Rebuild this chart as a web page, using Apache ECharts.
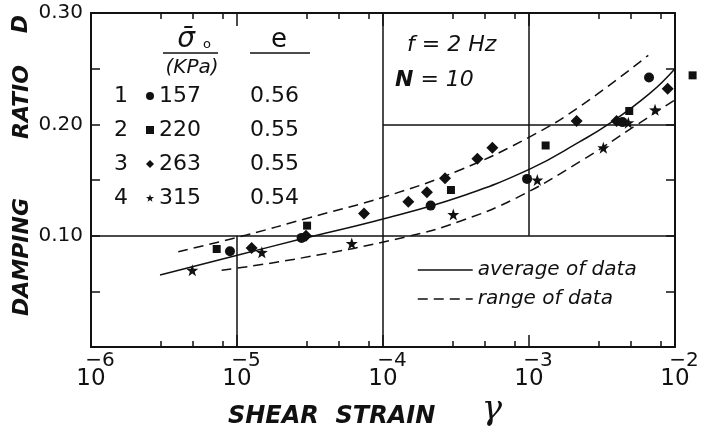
<!DOCTYPE html>
<html>
<head>
<meta charset="utf-8">
<script src="https://cdn.jsdelivr.net/npm/echarts@6/dist/echarts.min.js"></script>
<style>
  html, body { margin: 0; padding: 0; background: #fff; }
  #main { width: 705px; height: 431px; }
</style>
</head>
<body>
<div id="main"></div>
<script>
// shear strain (absolute) vs damping ratio
var circleData  = [[8.95e-6, 0.086], [2.77e-5, 0.098], [2.12e-4, 0.127], [9.7e-4, 0.151], [4.37e-3, 0.202], [6.64e-3, 0.242]];
var squareData  = [[7.26e-6, 0.088], [3.02e-5, 0.109], [2.92e-4, 0.141], [1.30e-3, 0.181], [4.86e-3, 0.212], [1.32e-2, 0.244]];
var diamondData = [[1.26e-5, 0.089], [2.97e-5, 0.100], [7.41e-5, 0.120], [1.49e-4, 0.1305], [2.0e-4, 0.139], [2.66e-4, 0.1515],
                   [4.43e-4, 0.169], [5.61e-4, 0.179], [2.12e-3, 0.203], [3.98e-3, 0.203], [8.91e-3, 0.232]];
var starData    = [[4.94e-6, 0.069], [1.48e-5, 0.085], [6.11e-5, 0.093], [3.03e-4, 0.119], [1.14e-3, 0.150],
                   [3.23e-3, 0.179], [4.79e-3, 0.2015], [7.3e-3, 0.213]];

var averageLine = [[2.97e-6, 0.0647], [1.02e-5, 0.0826], [2.70e-5, 0.0967], [1.03e-4, 0.1155], [3.37e-4, 0.135],
                   [1.02e-3, 0.160], [2.23e-3, 0.1845], [3.59e-3, 0.201], [6.75e-3, 0.228], [1.0e-2, 0.250]];
var upperRange  = [[3.96e-6, 0.0856], [1.16e-5, 0.1006], [3.0e-5, 0.1155], [1.03e-4, 0.135], [3.37e-4, 0.159],
                   [1.02e-3, 0.189], [2.23e-3, 0.216], [6.56e-3, 0.262]];
var lowerRange  = [[7.85e-6, 0.069], [2.70e-5, 0.0797], [1.45e-4, 0.099], [3.37e-4, 0.113], [8.22e-4, 0.134],
                   [2.23e-3, 0.1665], [5.46e-3, 0.1995], [1.0e-2, 0.222]];

var sampleIds = ['1', '2', '3', '4'];
var sigmaKPa  = ['157', '220', '263', '315'];
var voidRatio = ['0.56', '0.55', '0.55', '0.54'];

var decades = [-6, -5, -4, -3, -2];
var minorMult = [3, 5, 8];

// partial grid lines of the original figure [x1, y1, x2, y2]
var gridSegments = [
  [1e-6, 0.10, 1e-2, 0.10],
  [1e-4, 0, 1e-4, 0.30],
  [1e-5, 0, 1e-5, 0.10],
  [1e-3, 0.10, 1e-3, 0.30],
  [1e-4, 0.20, 1e-2, 0.20]
];

var ink = '#111';
var font = 'DejaVu Sans';
var starPath = 'path://M0,-10L2.35,-3.24L9.51,-3.09L3.8,1.24L5.88,8.09L0,4L-5.88,8.09L-3.8,1.24L-9.51,-3.09L-2.35,-3.24Z';

var minorTicks = [];
decades.slice(0, 4).forEach(function (d) {
  minorMult.forEach(function (m) { minorTicks.push(d + Math.log10(m)); });
});

function tickAxis(pos, values, len, showLine, showLabel) {
  return {
    type: 'value', position: pos, min: -6, max: -2, interval: 1, gridIndex: 0,
    axisLine: { show: showLine, onZero: false, lineStyle: { color: ink, width: 2 } },
    axisTick: { show: true, inside: true, length: len, customValues: values, lineStyle: { color: ink, width: 1.5 } },
    axisLabel: {
      show: showLabel, margin: 5, color: ink, fontFamily: font,
      formatter: function (v) { return '{e|\u2212' + (-v) + '}\n{b|10}'; },
      rich: {
        e: { fontSize: 20, lineHeight: 17, fontFamily: font, color: ink, padding: [0, 0, 0, 18] },
        b: { fontSize: 23, lineHeight: 20, fontFamily: font, color: ink }
      }
    },
    splitLine: { show: false }
  };
}

function yAx(pos, showLabel) {
  return {
    type: 'value', position: pos, min: 0, max: 0.30, interval: 0.05,
    axisLine: { show: true, onZero: false, lineStyle: { color: ink, width: 2 } },
    axisTick: { show: true, inside: true, length: 9, lineStyle: { color: ink, width: 1.5 } },
    axisLabel: {
      show: showLabel, margin: 8, color: ink, fontSize: 20, fontFamily: font,
      formatter: function (v) {
        var t = v * 10;
        return (v > 0 && Math.abs(t - Math.round(t)) < 1e-6) ? v.toFixed(2) : '';
      }
    },
    splitLine: { show: false }
  };
}

function scatter(name, data, symbol, size) {
  return {
    name: name, type: 'scatter', data: data, symbol: symbol, symbolSize: size,
    xAxisIndex: 0, clip: false, itemStyle: { color: ink, opacity: 1 }
  };
}

function curve(name, data, dashed) {
  return {
    name: name, type: 'line', data: data, smooth: 0.45, symbol: 'none',
    itemStyle: { color: ink },
    lineStyle: { color: ink, width: 1.5, type: dashed ? [10, 6] : 'solid' }
  };
}

var chart = echarts.init(document.getElementById('main'), null, { renderer: 'canvas' });

var tableText = [];
sampleIds.forEach(function (id, i) {
  tableText.push({
    type: 'text', x: 121, y: 96 + i * 34,
    style: { text: id, font: '22px ' + font, fill: ink, textAlign: 'center', textVerticalAlign: 'middle' }
  });
});

var avgSeries = curve('average of data', averageLine, false);
avgSeries.markLine = {
  silent: true, symbol: 'none', label: { show: false },
  lineStyle: { color: ink, width: 1.5, type: 'solid' },
  data: gridSegments.map(function (s) {
    return [{ coord: [s[0], s[1]] }, { coord: [s[2], s[3]] }];
  })
};

chart.setOption({
  backgroundColor: '#fff',
  animation: false,
  grid: { left: 91, right: 30, top: 13, bottom: 84 },
  xAxis: [
    {
      type: 'log', logBase: 10, min: 1e-6, max: 1e-2, position: 'bottom',
      axisLine: { show: false }, axisTick: { show: false }, axisLabel: { show: false }, splitLine: { show: false }
    },
    tickAxis('bottom', decades, 12, true, true),
    tickAxis('bottom', minorTicks, 6, false, false),
    tickAxis('top', decades, 13, true, false),
    tickAxis('top', minorTicks, 6, false, false)
  ],
  yAxis: [yAx('left', true), yAx('right', false)],
  legend: [
    {
      orient: 'vertical', left: 146, top: 84, padding: 0, itemGap: 10,
      itemWidth: 8, itemHeight: 8, selectedMode: false,
      data: sampleIds,
      formatter: function (name) {
        var i = sampleIds.indexOf(name);
        return '{s|' + sigmaKPa[i] + '}{v|' + voidRatio[i] + '}';
      },
      textStyle: {
        color: ink, fontFamily: font, fontSize: 22, lineHeight: 24,
        rich: {
          s: { width: 91, fontSize: 22, fontFamily: font, color: ink, lineHeight: 24 },
          v: { fontSize: 22, fontFamily: font, color: ink, lineHeight: 24 }
        }
      }
    },
    {
      orient: 'vertical', left: 417, top: 258, padding: 0, itemGap: 5,
      itemWidth: 55, itemHeight: 10, selectedMode: false,
      data: ['average of data', 'range of data'],
      itemStyle: { color: 'rgba(0,0,0,0)', borderWidth: 0, opacity: 0 },
      lineStyle: { color: ink, width: 1.5 },
      textStyle: { color: ink, fontFamily: font, fontSize: 20, fontStyle: 'italic', lineHeight: 24 }
    }
  ],
  series: [
    scatter('1', circleData, 'circle', 10),
    scatter('2', squareData, 'rect', 8),
    scatter('3', diamondData, 'diamond', 12),
    scatter('4', starData, starPath, 12),
    avgSeries,
    curve('range of data', upperRange, true),
    curve('range of data', lowerRange, true)
  ],
  graphic: [
    // axis names
    { type: 'text', x: 22, y: 257, rotation: Math.PI / 2,
      style: { text: 'DAMPING', font: 'italic bold 22px ' + font, fill: ink, textAlign: 'center', textVerticalAlign: 'middle' } },
    { type: 'text', x: 22, y: 102, rotation: Math.PI / 2,
      style: { text: 'RATIO', font: 'italic bold 22px ' + font, fill: ink, textAlign: 'center', textVerticalAlign: 'middle' } },
    { type: 'text', x: 21, y: 24, rotation: Math.PI / 2,
      style: { text: 'D', font: 'italic bold 22px ' + font, fill: ink, textAlign: 'center', textVerticalAlign: 'middle' } },
    { type: 'text', x: 228, y: 417,
      style: { text: 'SHEAR  STRAIN', font: 'italic bold 24px ' + font, fill: ink, textAlign: 'left', textVerticalAlign: 'middle' } },
    { type: 'text', x: 492, y: 410,
      style: { text: 'γ', font: 'italic 34px DejaVu Serif', fill: ink, textAlign: 'center', textVerticalAlign: 'middle' } },
    // table header
    { type: 'text', x: 186, y: 40,
      style: { text: 'σ\u0304', font: 'italic 28px ' + font, fill: ink, textAlign: 'center', textVerticalAlign: 'middle' } },
    { type: 'text', x: 207, y: 45,
      style: { text: 'o', font: '13px ' + font, fill: ink, textAlign: 'center', textVerticalAlign: 'middle' } },
    { type: 'line', shape: { x1: 163, y1: 53, x2: 218, y2: 53 }, style: { stroke: ink, lineWidth: 1.5 } },
    { type: 'text', x: 192, y: 68,
      style: { text: '(KPa)', font: 'italic 20px ' + font, fill: ink, textAlign: 'center', textVerticalAlign: 'middle' } },
    { type: 'text', x: 279, y: 40,
      style: { text: 'e', font: '26px ' + font, fill: ink, textAlign: 'center', textVerticalAlign: 'middle' } },
    { type: 'line', shape: { x1: 250, y1: 53, x2: 310, y2: 53 }, style: { stroke: ink, lineWidth: 1.5 } },
    // test conditions
    { type: 'text', x: 407, y: 45,
      style: { text: 'f = 2 Hz', font: 'italic 22px ' + font, fill: ink, textAlign: 'left', textVerticalAlign: 'middle' } },
    { type: 'text', x: 395, y: 80,
      style: {
        text: '{n|N} = 10', font: 'italic 22px ' + font, fill: ink, textAlign: 'left', textVerticalAlign: 'middle',
        rich: { n: { fontWeight: 'bold', fontStyle: 'italic', fontSize: 22, fontFamily: font, fill: ink } }
      } }
  ].concat(tableText)
});
</script>
</body>
</html>
